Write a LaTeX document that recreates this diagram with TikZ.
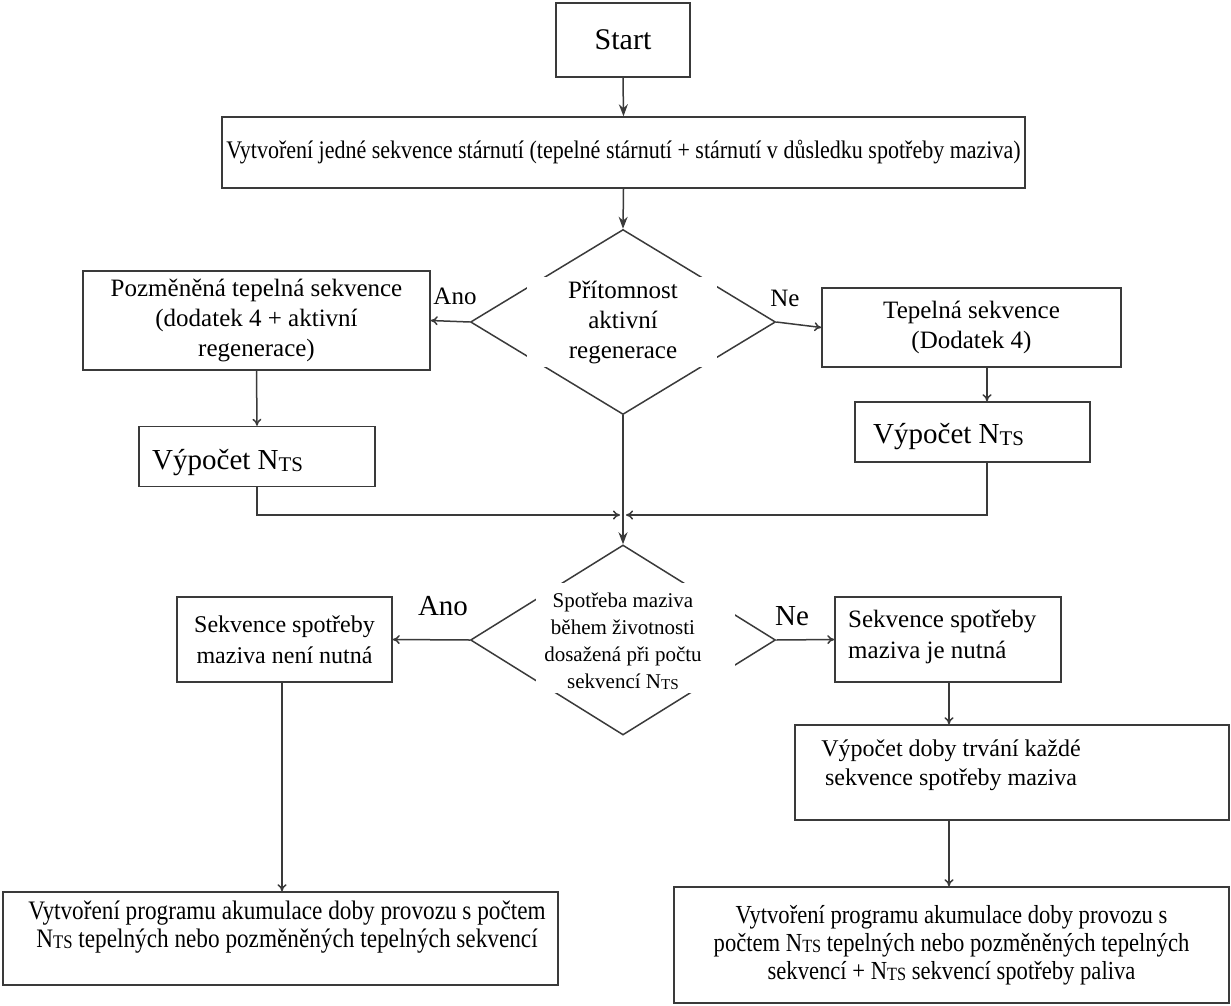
\documentclass[tikz,border=0pt]{standalone}
\usepackage{fontspec}
\setmainfont{Liberation Serif}
\newfontfamily\condfont[FakeStretch=0.87]{Liberation Serif}
\usetikzlibrary{shapes.geometric,arrows.meta}
\newcommand{\nts}{N\raisebox{-0.12ex}{\scalebox{0.72}{TS}}}
\definecolor{ln}{HTML}{3A3A3A}
\begin{document}
\begin{tikzpicture}[x=1pt,y=-1pt,
  box/.style={draw=ln,line width=1.5pt,inner sep=0pt,align=center,
    font=\fontsize{25}{30}\selectfont},
  dia/.style={draw=ln,line width=1.5pt,diamond,inner sep=0pt},
  mask/.style={fill=white,inner sep=0pt},
  txt/.style={inner sep=0pt,align=center},
  arr/.style={draw=ln,line width=1.5pt,-{To[length=7pt,width=9pt]}},
  arrf/.style={draw=ln,line width=1.5pt,-{Stealth[length=12pt,width=9pt]}},
  conn/.style={draw=ln,line width=1.5pt},
  lab/.style={inner sep=0pt,font=\fontsize{25}{28}\selectfont},
  labb/.style={inner sep=0pt,font=\fontsize{29}{32}\selectfont}]
\useasboundingbox (0,0) rectangle (1231,1006);

\node[box,minimum width=134pt,minimum height=74pt,font=\fontsize{30}{34}\selectfont] (start) at (623,40) {Start};
\node[box,minimum width=803pt,minimum height=71pt,font=\condfont\fontsize{25.3}{30}\selectfont] (seq) at (623.5,152.5)
  {Vytvoření jedné sekvence stárnutí (tepelné stárnutí + stárnutí v důsledku spotřeby maziva)};

\node[dia,minimum width=305pt,minimum height=185pt] (d1) at (623,322) {};
\node[mask,minimum width=190pt,minimum height=90pt] (d1m) at (622,322) {};
\node[txt,font=\fontsize{25}{30}\selectfont] (d1t) at (623,322)
  {Přítomnost\\aktivní\\regenerace};

\node[box,minimum width=347pt,minimum height=99pt] (alt) at (256.5,320.5)
  {Pozměněná tepelná sekvence\\(dodatek 4 + aktivní\\regenerace)};
\node[box,minimum width=299pt,minimum height=79pt] (therm) at (971.5,327.5)
  {Tepelná sekvence\\(Dodatek 4)};

\node[box,minimum width=236pt,minimum height=60pt] (ntsL) at (257,456.5) {};
\node[txt,anchor=west,font=\fontsize{29}{32}\selectfont] (ntsLt) at (152,463) {Výpočet \nts};
\node[box,minimum width=235pt,minimum height=60pt] (ntsR) at (972.5,432) {};
\node[txt,anchor=west,font=\fontsize{29}{32}\selectfont] (ntsRt) at (873,437) {Výpočet \nts};

\node[dia,minimum width=305pt,minimum height=190pt] (d2) at (623,640) {};
\node[mask,minimum width=199pt,minimum height=110pt] (d2m) at (635.5,638) {};
\node[txt,font=\fontsize{21}{27}\selectfont] (d2t) at (623,641)
  {Spotřeba maziva\\během životnosti\\dosažená při počtu\\sekvencí \nts};

\node[box,minimum width=215pt,minimum height=85pt,font=\fontsize{24}{31}\selectfont] (noneed) at (284.5,639.5)
  {Sekvence spotřeby\\maziva není nutná};
\node[box,minimum width=226pt,minimum height=85pt] (need) at (948,639.5) {};
\node[txt,anchor=west,align=left,font=\fontsize{25}{31}\selectfont] (needt) at (848,637)
  {Sekvence spotřeby\\maziva je nutná};

\node[box,minimum width=434pt,minimum height=95pt] (dur) at (1012,772.5) {};
\node[txt,font=\fontsize{24}{29}\selectfont] (durt) at (951,765)
  {Výpočet doby trvání každé\\sekvence spotřeby maziva};

\node[box,minimum width=555pt,minimum height=93pt] (botL) at (280.5,938.5) {};
\node[txt,font=\condfont\fontsize{26.7}{28}\selectfont] (botLt) at (287,927)
  {Vytvoření programu akumulace doby provozu s počtem\\\nts{} tepelných nebo pozměněných tepelných sekvencí};
\node[box,minimum width=555pt,minimum height=116pt,font=\condfont\fontsize{26}{28}\selectfont] (botR) at (951.5,945)
  {Vytvoření programu akumulace doby provozu s\\počtem \nts{} tepelných nebo pozměněných tepelných\\sekvencí + \nts{} sekvencí spotřeby paliva};

\node[lab] (ano1) at (455,296) {Ano};
\node[lab] (ne1) at (785,298) {Ne};
\node[labb] (ano2) at (443,606) {Ano};
\node[labb] (ne2) at (792,616) {Ne};

\coordinate (xR) at (987,0);
\coordinate (xD) at (949,0);
\coordinate (xL) at (282,0);
\coordinate (join) at (623,515);

\draw[arrf] (start.south) -- (seq.north);
\draw[arrf] (seq.south) -- (d1.north);
\draw[arr] (d1.west) -- (alt.east);
\draw[arr] (d1.east) -- (therm.west);
\draw[arr] (alt.south) -- (ntsL.north);
\draw[arr] (therm.south -| xR) -- (ntsR.north -| xR);
\draw[arr] (ntsL.south) |- ([xshift=-3pt]join);
\draw[arr] (ntsR.south -| xR) |- ([xshift=3pt]join);
\draw[conn] (d1.south) -- (join);
\draw[arrf] (join) -- (d2.north);
\draw[arr] (d2.west) -- (noneed.east);
\draw[arr] (d2.east) -- (need.west);
\draw[arr] (need.south -| xD) -- (dur.north -| xD);
\draw[arr] (dur.south -| xD) -- (botR.north -| xD);
\draw[arr] (noneed.south -| xL) -- (botL.north -| xL);
\end{tikzpicture}
\end{document}
